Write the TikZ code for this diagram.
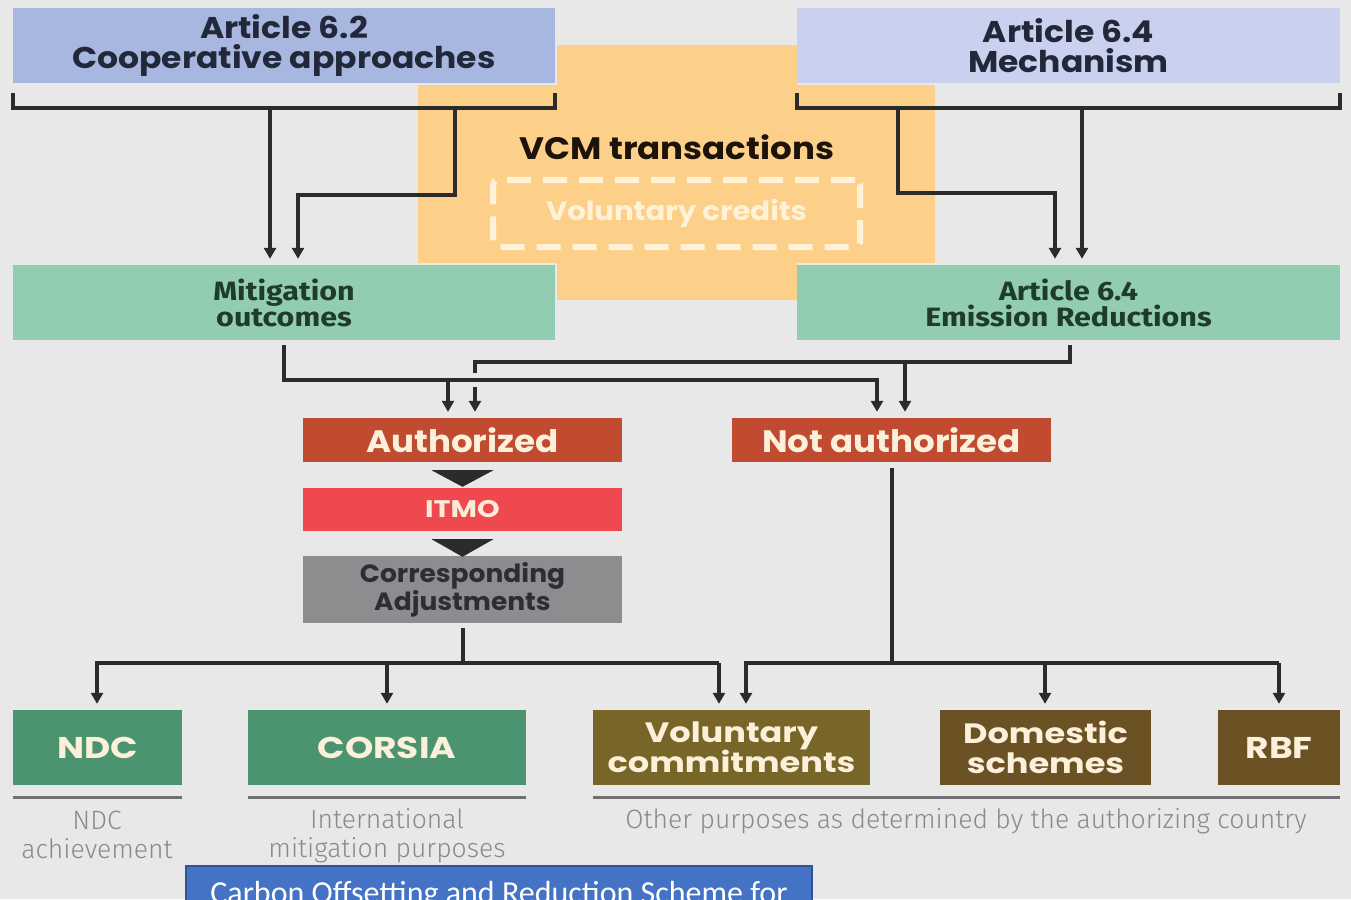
\documentclass[tikz,border=0pt]{standalone}
\usepackage{fontspec}
\usetikzlibrary{arrows.meta,calc}
\newfontfamily\popwide{Poppins}[FakeStretch=1.1]
\newfontfamily\popwider{Poppins}[FakeStretch=1.2]
\newfontfamily\popnarrow{Poppins}[FakeStretch=1.06]
\newfontfamily\firawide{Fira Sans}[FakeStretch=1.15]
\newfontfamily\firalightfont{Fira Sans Light}
\newfontfamily\calfont{Carlito}

\definecolor{bgcol}{HTML}{E8E8E8}
\definecolor{lavA}{HTML}{A8B7DF}
\definecolor{lavB}{HTML}{C9D1EF}
\definecolor{navytext}{HTML}{22283A}
\definecolor{vcmorange}{HTML}{FDD089}
\definecolor{paleline}{HTML}{FFF2D9}
\definecolor{mint}{HTML}{93CDB1}
\definecolor{minttext}{HTML}{1E3B2C}
\definecolor{brick}{HTML}{C14B30}
\definecolor{itmored}{HTML}{EF484F}
\definecolor{slate}{HTML}{8D8D90}
\definecolor{slatetext}{HTML}{2D2E33}
\definecolor{leaf}{HTML}{4B946F}
\definecolor{olive}{HTML}{786628}
\definecolor{umber}{HTML}{6A5224}
\definecolor{cream}{HTML}{FCF0DA}
\definecolor{wire}{HTML}{2B2B2B}
\definecolor{rulegray}{HTML}{707070}
\definecolor{captiongray}{HTML}{8A8A8A}
\definecolor{officeblue}{HTML}{4472C4}
\definecolor{officeedge}{HTML}{2F5597}

\begin{document}
\begin{tikzpicture}[x=1pt,y=-1pt,
  box/.style={rectangle, inner sep=0pt, align=center},
  headbox/.style={box, text=navytext, font=\popwide\bfseries\fontsize{30}{30}\selectfont},
  mintbox/.style={box, fill=mint, text=minttext, font=\firawide\bfseries\fontsize{26.5}{26}\selectfont, minimum height=75pt},
  statebox/.style={box, fill=brick, text=cream, font=\popwide\bfseries\fontsize{31}{31}\selectfont, minimum width=319pt, minimum height=44pt},
  usebox/.style={box, text=cream, font=\popwider\bfseries\fontsize{28}{30}\selectfont, minimum height=75pt},
  bigword/.style={font=\popwider\bfseries\fontsize{30}{30}\selectfont},
  caption/.style={align=center, text=captiongray, inner sep=0pt, font=\firalightfont\fontsize{26.5}{29}\selectfont},
  conn/.style={draw=wire, line width=4pt, line join=miter},
  arr/.style={conn, -{Triangle[width=12pt,length=11pt]}, shorten >=6pt},
  tri/.style={fill=wire},
  underrule/.style={draw=rulegray, line width=3pt}
]
\clip (0,0) rectangle (1351,899);
\fill[bgcol] (0,0) rectangle (1351,899);

% voluntary carbon market band behind the top half
\fill[vcmorange] (557,45) rectangle (797,300);
\fill[vcmorange] (418,85) rectangle (935,263);

% top level: the two Paris Agreement articles
\node[headbox, fill=lavA, minimum width=542pt, minimum height=75pt] (a62) at (284,45.5) {Article 6.2\\Cooperative approaches};
\node[headbox, fill=lavB, minimum width=543pt, minimum height=75pt] (a64) at (1068.5,45.5) {Article 6.4\\Mechanism};

\node[box, text=black!85!brown, font=\popwide\bfseries\fontsize{31}{31}\selectfont] (vcm) at (677,147) {VCM transactions};
\node[box, draw=paleline, line width=6pt, dash pattern=on 24pt off 12pt, rounded corners=5pt,
      minimum width=367pt, minimum height=67pt, text=paleline,
      font=\popwide\bfseries\fontsize{26.5}{27}\selectfont] (vc) at (676.5,213.5) {Voluntary credits};

% second level: resulting units
\node[mintbox, minimum width=542pt] (mit) at (284,302.5) {Mitigation\\outcomes};
\node[mintbox, minimum width=543pt] (er) at (1068.5,302.5) {Article 6.4\\Emission Reductions};

% authorization status
\node[statebox] (auth) at (462.5,440) {Authorized};
\node[statebox] (nauth) at (891.5,440) {Not authorized};
\node[box, fill=itmored, text=cream!90!pink, font=\popwider\bfseries\fontsize{24}{24}\selectfont,
      minimum width=319pt, minimum height=43pt] (itmo) at (462.5,509.5) {ITMO};
\node[box, fill=slate, text=slatetext, font=\popnarrow\bfseries\fontsize{25}{26}\selectfont,
      minimum width=319pt, minimum height=67pt] (ca) at (462.5,589.5) {Corresponding\\Adjustments};

% uses
\node[usebox, bigword, fill=leaf, minimum width=169pt] (ndc) at (97.5,747.5) {NDC};
\node[usebox, bigword, fill=leaf, minimum width=278pt] (corsia) at (387,747.5) {CORSIA};
\node[usebox, fill=olive, minimum width=277pt] (vol) at (731.5,747.5) {Voluntary\\commitments};
\node[usebox, fill=umber, minimum width=211pt] (dom) at (1045.5,747.5) {Domestic\\schemes};
\node[usebox, bigword, fill=umber, minimum width=122pt] (rbf) at (1279,747.5) {RBF};

% rules and captions under the uses
\draw[underrule] ([yshift=-12pt]ndc.south west) -- ([yshift=-12pt]ndc.south east);
\draw[underrule] ([yshift=-12pt]corsia.south west) -- ([yshift=-12pt]corsia.south east);
\draw[underrule] ([yshift=-12pt]vol.south west) -- ([yshift=-12pt]rbf.south east);
\node[caption] (capndc) at (97,835) {NDC\\achievement};
\node[caption] (capcorsia) at (387,836) {International\\mitigation purposes};
\node[caption] (capother) at (966,821) {Other purposes as determined by the authorizing country};

% brackets under the articles
\draw[conn] ([yshift=-10pt]a62.south west) -- ([yshift=-25pt]a62.south west) -- ([yshift=-25pt]a62.south east) -- ([yshift=-10pt]a62.south east);
\draw[conn] ([yshift=-10pt]a64.south west) -- ([yshift=-25pt]a64.south west) -- ([yshift=-25pt]a64.south east) -- ([yshift=-10pt]a64.south east);

\coordinate (p1) at (270,108);
\coordinate (p2) at (455,108);
\coordinate (p2b) at (298,195);
\draw[arr] (p1) -- (p1 |- mit.north);
\draw[arr] (p2) |- (p2b) -- (p2b |- mit.north);

\coordinate (q1) at (1082,108);
\coordinate (q2) at (898,108);
\coordinate (q2b) at (1055,193);
\draw[arr] (q1) -- (q1 |- er.north);
\draw[arr] (q2) |- (q2b) -- (q2b |- er.north);

% units to authorization status
\coordinate (e1) at (1070,362);
\coordinate (e2) at (475,362);
\coordinate (e3) at (905,362);
\draw[arr] ([yshift=-5pt]er.south -| e1) -- (e1) -- (e2) -- (e2 |- auth.north);
\draw[arr] (e3) -- (e3 |- nauth.north);

% small break where the two feeds cross
\draw[bgcol, line width=10pt] (475,373) -- (475,387);

\coordinate (m1) at (284,380);
\coordinate (m2) at (877,380);
\coordinate (m3) at (448,380);
\draw[arr] ([yshift=-5pt]mit.south) -- (m1) -- (m2) -- (m2 |- nauth.north);
\draw[arr] (m3) -- (m3 |- auth.north);

% steps of the authorized path
\fill[tri] ([xshift=-31pt,yshift=-8pt]auth.south) -- ([xshift=31pt,yshift=-8pt]auth.south) -- ([yshift=1pt]itmo.north) -- cycle;
\fill[tri] ([xshift=-31pt,yshift=-8pt]itmo.south) -- ([xshift=31pt,yshift=-8pt]itmo.south) -- ([yshift=-1pt]ca.north) -- cycle;

% authorized units to uses
\coordinate (h1) at (97,663);
\coordinate (h2) at (719,663);
\coordinate (h3) at (387,663);
\draw[conn] ([yshift=-5pt]ca.south) -- (ca.south |- h1);
\draw[arr] (h2) -- (h1) -- (h1 |- ndc.north);
\draw[arr] (h3) -- (h3 |- corsia.north);
\draw[arr] (h2) -- (h2 |- vol.north);

% non-authorized units to uses
\coordinate (n1) at (746,663);
\coordinate (n2) at (1279,663);
\coordinate (n3) at (1045,663);
\draw[conn] ([yshift=-6pt]nauth.south) -- (nauth.south |- n1);
\draw[arr] (n2) -- (n1) -- (n1 |- vol.north);
\draw[arr] (n3) -- (n3 |- dom.north);
\draw[arr] (n2) -- (n2 |- rbf.north);

% callout spelling out CORSIA
\node[box, fill=officeblue, draw=officeedge, line width=1.5pt, minimum width=626pt, minimum height=58pt,
      text=white, font=\calfont\fontsize{32}{32}\selectfont] (callout) at (499,895) {Carbon Offsetting and Reduction Scheme for};
\end{tikzpicture}
\end{document}
